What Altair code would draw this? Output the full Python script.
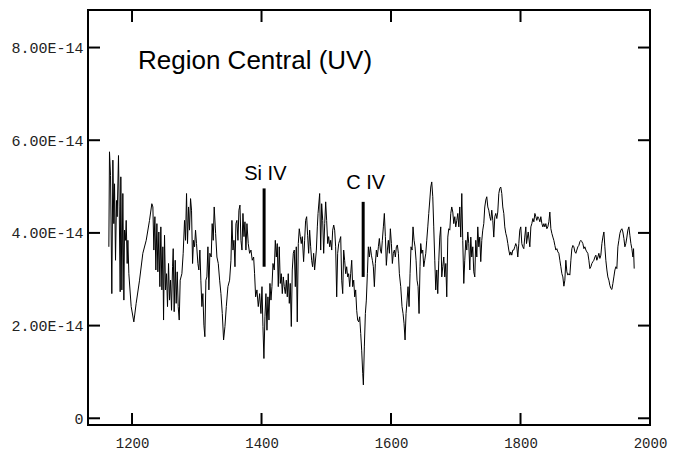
import altair as alt
import pandas as pd

# ---- data (flux in units of 1E-14) ----
wavelength = [
    1164.2, 1165.2, 1166.8, 1168.8, 1170.4, 1171.9, 1173.0, 1174.5, 1176.0, 1177.1,
    1179.1, 1180.2, 1181.7, 1182.7, 1184.3, 1185.8, 1187.4, 1188.4, 1189.9, 1191.0,
    1192.5, 1193.6, 1195.1, 1198.7, 1202.8, 1206.4, 1211.6, 1216.7, 1221.9, 1227.0,
    1230.6, 1232.2, 1233.7, 1235.3, 1236.8, 1238.4, 1239.9, 1241.4, 1243.0, 1244.5,
    1246.1, 1247.6, 1248.7, 1250.2, 1251.7, 1253.3, 1254.8, 1256.4, 1257.9, 1259.5,
    1261.0, 1262.6, 1263.6, 1265.1, 1266.7, 1268.2, 1269.8, 1271.3, 1272.9, 1274.4,
    1277.0, 1279.0, 1281.1, 1282.6, 1284.2, 1285.7, 1287.3, 1288.8, 1290.4, 1291.9,
    1293.5, 1295.0, 1296.6, 1298.1, 1299.6, 1301.7, 1303.2, 1304.8, 1306.3, 1307.9,
    1309.4, 1311.0, 1312.5, 1314.1, 1315.6, 1317.2, 1318.7, 1320.2, 1322.3, 1323.8,
    1325.4, 1326.9,
    1329.1, 1331.1, 1333.2, 1335.3, 1337.3, 1339.4, 1341.4, 1343.5, 1345.6, 1348.1,
    1350.7, 1352.8, 1354.3, 1355.9, 1357.4, 1359.0, 1360.5, 1362.0, 1363.6, 1365.1,
    1366.7, 1368.2, 1369.8, 1371.3, 1372.9, 1374.4, 1375.9, 1377.5, 1379.5, 1381.6,
    1383.7, 1385.7, 1387.8, 1389.3, 1390.9, 1392.9, 1395.0, 1397.1, 1399.1, 1400.7,
    1402.2, 1403.7, 1405.3, 1406.8, 1408.4, 1409.9, 1411.5, 1413.0, 1414.6, 1416.1,
    1417.7, 1419.7, 1421.3, 1422.8, 1424.3, 1425.9, 1427.4, 1429.0, 1430.5, 1432.1,
    1433.6, 1435.2, 1436.7, 1438.3, 1439.8, 1441.3, 1442.9, 1444.4, 1446.0, 1447.5,
    1449.1, 1450.6, 1452.2, 1453.7, 1455.2, 1456.8, 1458.3, 1459.9, 1461.4, 1463.0,
    1465.0, 1466.6, 1468.1, 1469.7, 1471.2, 1472.8, 1474.3, 1475.9, 1477.4, 1478.9,
    1480.5, 1482.0,
    1484.7, 1486.2, 1487.3, 1489.8, 1491.4, 1492.9, 1494.5, 1496.0, 1497.6, 1499.1,
    1500.6, 1502.2, 1503.7, 1505.3, 1506.8, 1508.4, 1509.9, 1511.5, 1513.0, 1514.5,
    1516.1, 1517.6, 1519.2, 1520.7, 1522.3, 1523.8, 1525.4, 1526.9, 1528.4, 1530.0,
    1531.5, 1533.1, 1534.6, 1536.2, 1537.7, 1539.3, 1540.8, 1542.4, 1543.9, 1545.4,
    1547.0, 1548.5, 1550.1, 1551.6, 1553.2, 1554.7, 1556.3, 1557.3, 1558.8, 1560.4,
    1561.9, 1563.5, 1565.0, 1566.6, 1568.1, 1569.7, 1571.2, 1572.7, 1574.3, 1575.8,
    1577.4, 1578.9, 1580.5, 1582.0, 1583.6, 1585.1, 1586.6, 1588.2, 1589.7, 1591.3,
    1592.8, 1594.4, 1595.9, 1597.5, 1599.0, 1600.6, 1602.1, 1603.6, 1605.2, 1606.7,
    1608.3, 1609.8, 1611.4, 1612.9, 1615.0, 1617.0, 1618.6, 1620.1, 1621.7, 1623.2,
    1624.8, 1626.3, 1627.9, 1629.4, 1630.9, 1632.5, 1634.0, 1635.6, 1637.1, 1638.7,
    1640.2, 1641.8, 1643.3, 1644.8,
    1645.9, 1647.5, 1649.0, 1650.6, 1652.1, 1653.7, 1655.2, 1656.8, 1658.3, 1659.9,
    1661.4, 1662.9, 1664.5, 1666.0, 1667.6, 1669.1, 1670.7, 1672.2, 1673.8, 1675.3,
    1676.8, 1678.4, 1679.9, 1681.5, 1683.0, 1684.6, 1686.1, 1687.7, 1689.2, 1690.8,
    1692.3, 1693.8, 1695.4, 1696.9, 1698.5, 1700.0, 1701.6, 1703.1, 1704.7, 1706.2,
    1707.7, 1709.3, 1710.8, 1712.4, 1713.9, 1715.5, 1717.0, 1718.6, 1720.1, 1721.7,
    1723.2, 1724.7, 1726.3, 1727.8, 1729.4, 1730.9, 1732.5, 1734.0, 1735.6, 1737.1,
    1738.6, 1740.2, 1741.7, 1743.3, 1744.8, 1746.4, 1747.9, 1749.5, 1751.0, 1752.6,
    1754.1, 1755.6, 1757.2, 1758.7, 1760.3, 1761.8, 1763.4, 1764.9, 1766.5, 1768.0,
    1769.5, 1771.1, 1772.6, 1774.2, 1775.7, 1777.3, 1778.8, 1780.4, 1781.9, 1783.5,
    1785.0, 1786.5, 1788.1, 1789.6, 1791.2, 1792.7, 1794.3, 1795.8, 1797.4, 1798.9,
    1800.4, 1802.0, 1803.5, 1805.1, 1806.6, 1808.2,
    1809.3, 1811.9, 1814.4, 1816.0, 1817.5, 1819.1, 1820.6, 1822.2, 1823.7, 1825.2,
    1826.8, 1828.3, 1829.9, 1831.4, 1833.0, 1834.5, 1836.1, 1837.6, 1839.1, 1840.7,
    1842.2, 1843.8, 1845.3, 1846.9, 1848.4, 1850.0, 1851.5, 1853.1, 1854.6, 1856.1,
    1857.7, 1859.2, 1860.8, 1862.3, 1863.9, 1865.4, 1867.0, 1868.5, 1870.0, 1871.6,
    1873.1, 1874.7, 1876.2, 1877.8, 1879.3, 1880.9, 1882.4, 1884.0, 1885.5, 1887.0,
    1888.6, 1890.1, 1891.7, 1893.2, 1894.8, 1896.3, 1897.9, 1899.4, 1901.0, 1902.5,
    1904.0, 1905.6, 1907.1, 1908.7, 1910.2, 1911.8, 1913.3, 1914.9, 1916.4, 1917.9,
    1919.5, 1921.0, 1922.6, 1924.1, 1925.7, 1927.2, 1928.8, 1930.3, 1931.8, 1933.4,
    1934.9, 1936.5, 1938.0, 1939.6, 1941.1, 1942.7, 1944.2, 1945.8, 1947.3, 1948.8,
    1950.4, 1951.9, 1953.5, 1955.0, 1956.6, 1958.1, 1959.7, 1961.2, 1962.7, 1964.3,
    1965.8, 1967.4, 1968.9, 1970.5, 1972.0, 1973.6, 1974.6, 1975.6,
]

flux = [
    3.70, 5.75, 5.24, 2.69, 5.57, 4.20, 5.06, 3.41, 4.70, 4.35,
    5.67, 4.56, 2.73, 5.21, 2.77, 4.85, 2.55, 4.06, 3.84, 4.27,
    3.34, 3.84, 3.12, 2.41, 2.08, 2.48, 2.98, 3.56, 3.84, 4.27,
    4.63, 4.56, 3.63, 4.35, 3.20, 4.20, 3.16, 4.02, 2.84, 4.13,
    2.77, 3.70, 2.12, 3.95, 2.77, 3.12, 2.41, 3.34, 2.55, 2.98,
    2.33, 3.27, 3.66, 2.30, 3.41, 2.48, 3.16, 2.41, 2.12, 2.98,
    3.12, 3.56, 4.27, 3.84, 4.85, 3.77, 4.56, 4.06, 4.74, 4.49,
    3.34, 3.84, 3.70, 4.06, 3.77, 3.34, 3.20, 3.63, 2.98, 2.41,
    2.69, 2.01, 1.76, 2.98, 3.05, 3.70, 2.77, 3.56, 3.48, 4.20,
    3.84, 4.56,
    3.99, 3.48, 3.34, 2.98, 2.69, 2.26, 1.69, 1.98, 2.41, 2.84,
    2.98, 3.41, 4.27, 3.63, 3.84, 3.27, 4.20, 4.27, 3.84, 4.49,
    4.60, 3.84, 3.63, 4.42, 3.92, 4.24, 3.63, 4.20, 3.77, 3.56,
    3.63, 3.41, 3.48, 3.12, 2.62, 2.77, 2.41, 2.69, 2.26, 2.84,
    1.98, 1.29, 2.19, 2.69, 1.90, 2.62, 2.12, 2.91, 2.55, 2.84,
    3.34, 3.20, 3.84, 3.48, 3.77, 2.84, 3.70, 2.91, 3.12, 2.69,
    3.05, 2.84, 2.69, 2.98, 2.62, 3.12, 2.48, 2.91, 1.98, 3.20,
    3.56, 3.63, 2.84, 3.70, 2.08, 3.77, 4.09, 3.92, 3.77, 3.92,
    3.38, 3.84, 4.27, 4.35, 3.95, 3.56, 4.06, 3.70, 3.41, 3.27,
    3.56, 3.20,
    3.63, 4.13, 4.42, 4.85, 3.63, 4.63, 4.27, 3.56, 4.20, 4.67,
    4.27, 3.77, 3.92, 3.70, 3.84, 3.63, 4.06, 4.17, 4.06, 3.70,
    2.62, 3.56, 3.77, 3.84, 3.92, 2.98, 2.69, 3.63, 3.41, 3.12,
    3.27, 3.05, 3.12, 2.84, 3.12, 3.41, 2.84, 2.98, 2.62, 2.77,
    2.33, 2.12, 2.08, 2.19, 1.83, 1.47, 0.97, 0.72, 1.54, 2.26,
    2.55, 3.12, 3.70, 3.48, 3.70, 3.52, 3.41, 3.27, 2.84, 3.34,
    3.63, 3.48, 3.70, 3.88, 3.63, 3.56, 3.84, 4.13, 4.42, 3.92,
    3.30, 3.63, 3.84, 3.56, 4.09, 3.77, 3.34, 3.56, 3.63, 3.48,
    3.70, 3.74, 3.56, 3.12, 2.84, 2.41, 2.26, 2.05, 1.69, 2.26,
    2.55, 2.84, 2.41, 3.12, 3.70, 3.63, 4.13, 3.84, 3.70, 3.41,
    2.98, 2.84, 2.26, 3.27,
    3.77, 3.56, 3.63, 3.27, 3.41, 3.56, 3.84, 4.13, 4.42, 4.71,
    4.99, 5.10, 4.78, 4.13, 3.41, 2.77, 3.20, 2.69, 3.41, 3.91,
    4.13, 3.05, 3.27, 3.48, 3.05, 3.34, 2.62, 3.91, 4.09, 4.06,
    4.42, 4.56, 4.45, 4.20, 4.35, 4.13, 4.27, 4.42, 4.13, 4.56,
    3.91, 4.85, 3.84, 2.91, 3.41, 3.84, 3.63, 4.02, 3.77, 3.20,
    3.91, 3.48, 3.70, 3.16, 3.05, 3.84, 3.48, 4.13, 3.70, 3.91,
    3.38, 3.84, 4.06, 4.20, 4.56, 4.71, 4.78, 4.56, 4.49, 4.35,
    4.27, 4.49, 4.27, 3.91, 4.35, 4.42, 4.31, 4.45, 4.85, 4.96,
    4.99, 4.85, 4.56, 4.42, 4.13, 3.99, 3.91, 3.77, 3.63, 3.52,
    3.59, 3.52, 3.63, 3.63, 3.70, 3.77, 3.70, 3.48, 3.77, 4.06,
    4.13, 3.77, 3.70, 3.66, 3.91, 4.13,
    3.77, 4.02, 3.70, 4.13, 4.20, 4.31, 4.24, 4.42, 4.35, 4.27,
    4.35, 4.31, 4.24, 4.35, 4.20, 4.13, 4.20, 4.13, 4.20, 4.09,
    4.13, 4.24, 4.45, 4.09, 3.99, 3.91, 3.84, 3.73, 3.63, 3.66,
    3.59, 3.56, 3.41, 3.27, 3.12, 3.05, 2.85, 2.98, 3.41, 3.16,
    3.09, 3.12, 3.09, 3.41, 3.66, 3.73, 3.70, 3.59, 3.56, 3.63,
    3.70, 3.73, 3.81, 3.84, 3.81, 3.77, 3.66, 3.70, 3.63, 3.59,
    3.56, 3.41, 3.23, 3.27, 3.34, 3.38, 3.41, 3.48, 3.52, 3.41,
    3.48, 3.56, 3.45, 3.52, 3.77, 3.91, 4.02, 3.70, 3.41, 3.20,
    3.05, 2.98, 2.87, 2.80, 2.78, 2.91, 3.05, 3.20, 3.27, 3.23,
    3.70, 3.84, 3.99, 4.06, 4.09, 4.02, 3.88, 3.70, 3.77, 3.91,
    4.06, 4.13, 3.95, 3.77, 3.66, 3.48, 3.66, 3.23,
]

y_tick_values = [0, 2, 4, 6, 8]
x_tick_values = [1200, 1400, 1600, 1800]
x_label_values = [1200, 1400, 1600, 1800, 2000]

ion_names = ["Si IV", "C IV"]
ion_wavelength = [1404, 1557]
ion_bar_low = [3.27, 3.05]
ion_bar_high = [4.96, 4.67]
ion_label_wavelength = [1406, 1561]
ion_label_flux = [5.14, 4.94]

panel_title = ["Region Central (UV)"]

W, H = 562, 415

spec = pd.DataFrame({"wl": wavelength, "flux": flux})
ions = pd.DataFrame({
    "name": ion_names, "wl": ion_wavelength, "lo": ion_bar_low, "hi": ion_bar_high,
    "lwl": ion_label_wavelength, "ly": ion_label_flux,
})
xt = pd.DataFrame({"v": x_tick_values})
yt = pd.DataFrame({"v": y_tick_values})
tt = pd.DataFrame({"t": panel_title})

xscale = alt.Scale(domain=[1132, 2000], nice=False, zero=False)
yscale = alt.Scale(domain=[-0.145, 8.81], nice=False, zero=False)

xaxis = alt.Axis(
    values=x_label_values, ticks=False, tickSize=0, domain=False, grid=False,
    title=None, format="d", labelFlush=False, labelFont="Liberation Mono",
    labelFontSize=14, labelPadding=11, labelColor="#222")
yaxis = alt.Axis(
    values=y_tick_values, ticks=False, tickSize=0, domain=False, grid=False,
    title=None, labelExpr="datum.value == 0 ? '0' : format(datum.value, '.2f') + 'E-14'",
    labelFont="Liberation Mono", labelFontSize=15, labelPadding=5,
    labelColor="#222")

line = alt.Chart(spec).mark_line(color="black", strokeWidth=1).encode(
    x=alt.X("wl:Q", scale=xscale, axis=xaxis),
    y=alt.Y("flux:Q", scale=yscale, axis=yaxis),
)

tick_style = dict(color="black", strokeWidth=2)
top_ticks = alt.Chart(xt).mark_rule(**tick_style).encode(
    x=alt.X("v:Q", scale=xscale, axis=xaxis), y=alt.value(0), y2=alt.value(12))
bottom_ticks = alt.Chart(xt).mark_rule(**tick_style).encode(
    x=alt.X("v:Q", scale=xscale, axis=xaxis), y=alt.value(H - 12), y2=alt.value(H))
left_ticks = alt.Chart(yt).mark_rule(**tick_style).encode(
    y=alt.Y("v:Q", scale=yscale, axis=yaxis), x=alt.value(0), x2=alt.value(12))
right_ticks = alt.Chart(yt).mark_rule(**tick_style).encode(
    y=alt.Y("v:Q", scale=yscale, axis=yaxis), x=alt.value(W - 12), x2=alt.value(W))

bars = alt.Chart(ions).mark_rule(color="black", strokeWidth=3).encode(
    x=alt.X("wl:Q", scale=xscale, axis=xaxis),
    y=alt.Y("lo:Q", scale=yscale, axis=yaxis), y2="hi:Q")
labels = alt.Chart(ions).mark_text(
    font="Liberation Sans", fontSize=20, align="center", baseline="alphabetic",
    color="black").encode(
    x=alt.X("lwl:Q", scale=xscale, axis=xaxis),
    y=alt.Y("ly:Q", scale=yscale, axis=yaxis), text="name:N")
title = alt.Chart(tt).mark_text(
    font="Liberation Sans", fontSize=26, align="left", baseline="alphabetic",
    color="black").encode(x=alt.value(50), y=alt.value(59), text="t:N")

chart = alt.layer(
    line, top_ticks, bottom_ticks, left_ticks, right_ticks, bars, labels, title
).properties(
    width=W, height=H,
    autosize=alt.AutoSizeParams(type="none"),
    padding={"left": 88, "top": 10, "right": 679 - 88 - W, "bottom": 457 - 10 - H},
    background="white",
).configure_view(stroke="black", strokeWidth=2)

chart.save("out.html", embed_options={"renderer": "svg", "actions": False})
